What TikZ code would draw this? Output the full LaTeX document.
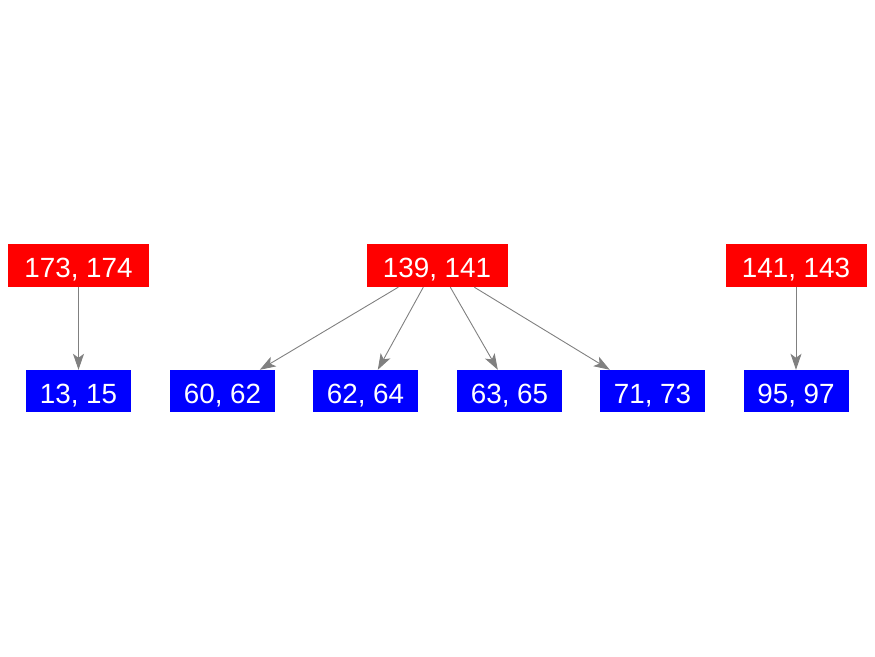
\documentclass[tikz,border=0pt]{standalone}
\usepackage{fontspec}
\setmainfont{Liberation Sans}
\usetikzlibrary{arrows.meta}
\definecolor{edgegray}{RGB}{128,128,128}
\tikzset{
  boxbase/.style={text=white, inner sep=0pt, text height=25pt, text depth=0pt, font=\fontsize{27.8}{30}\selectfont},
  rednode/.style={boxbase, fill=red, minimum width=141pt, minimum height=43pt},
  bluenode/.style={boxbase, fill=blue, minimum width=105pt, minimum height=42pt},
  edge/.style={draw=edgegray, line width=0.9pt, -{Stealth[length=16pt, width=11pt, inset=4pt]}}
}
\begin{document}
\begin{tikzpicture}[x=1pt,y=1pt]
\useasboundingbox (0,0) rectangle (875,656);
\node[rednode] (r1) at (78.5,390.5) {173, 174};
\node[rednode] (r2) at (437,390.5) {139, 141};
\node[rednode] (r3) at (796,390.5) {141, 143};
\node[bluenode] (b1) at (78.5,265) {13, 15};
\node[bluenode] (b2) at (222.5,265) {60, 62};
\node[bluenode] (b3) at (365.5,265) {62, 64};
\node[bluenode] (b4) at (509.5,265) {63, 65};
\node[bluenode] (b5) at (652.5,265) {71, 73};
\node[bluenode] (b6) at (796,265) {95, 97};
\draw[edge] (r1.south) -- (b1.north);
\draw[edge] (r3.south) -- (b6.north);
\draw[edge] ([xshift=32pt]r2.south west) -- ([xshift=90pt]b2.north west);
\draw[edge] ([xshift=57pt]r2.south west) -- ([xshift=65pt]b3.north west);
\draw[edge] ([xshift=84pt]r2.south west) -- ([xshift=41pt]b4.north west);
\draw[edge] ([xshift=108pt]r2.south west) -- ([xshift=10pt]b5.north west);
\end{tikzpicture}
\end{document}
